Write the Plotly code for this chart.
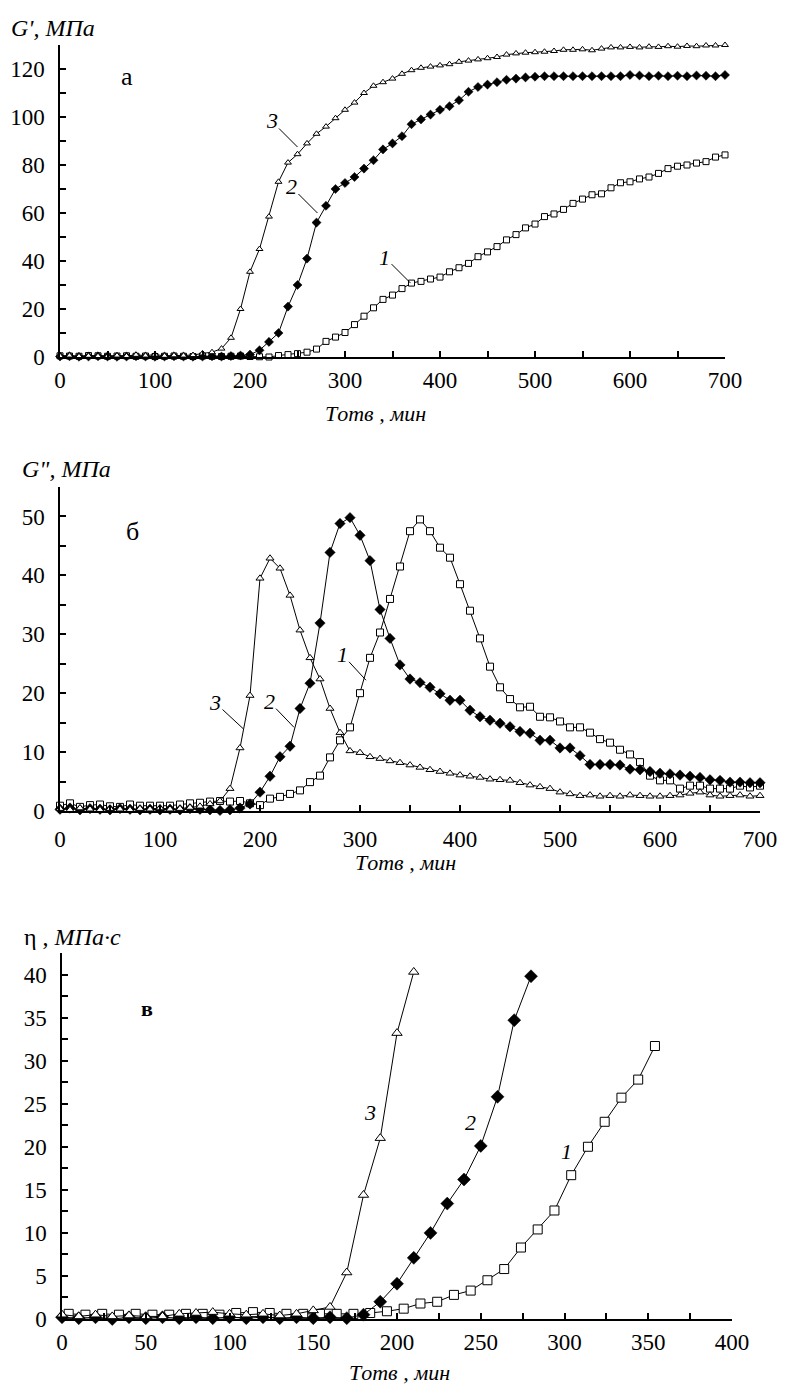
import plotly.graph_objects as go

# ---------------- data ----------------
# Panel a: G' (MPa) vs time (min)
T_A = [0, 10, 20, 30, 40, 50, 60, 70, 80, 90, 100, 110, 120, 130, 140, 150, 160, 170, 180, 190,
       200, 210, 220, 230, 240, 250, 260, 270, 280, 290, 300, 310, 320, 330, 340, 350, 360, 370, 380, 390,
       400, 410, 420, 430, 440, 450, 460, 470, 480, 490, 500, 510, 520, 530, 540, 550, 560, 570, 580, 590,
       600, 610, 620, 630, 640, 650, 660, 670, 680, 690, 700]
GA_1 = [0.5, 0.4, 0.3, 0.6, 0.5, 0.3, 0.4, 0.5, 0.3, 0.4, 0.2, 0.3, 0.4, 0.3, 0.2, 0.4, 0.3, 0.2, 0.3, 0.4,
        0.2, 0.1, 0.0, 0.6, 1.0, 1.4, 2.0, 3.3, 6.5, 8.3, 10.2, 13.5, 17.0, 20.5, 24.0, 25.8, 28.5, 30.8, 31.5, 32.5,
        33.3, 35.5, 37.2, 39.0, 41.8, 43.8, 46.0, 48.8, 51.0, 53.8, 55.4, 58.5, 59.6, 61.5, 64.0, 65.8, 67.6, 68.0, 70.5, 72.6,
        73.0, 74.2, 75.0, 76.5, 78.5, 79.5, 80.0, 80.8, 81.4, 83.3, 84.2]
GA_2 = [0.2, 0.3, 0.1, 0.2, 0.3, 0.2, 0.1, 0.2, 0.3, 0.2, 0.1, 0.2, 0.3, 0.2, 0.1, 0.2, 0.3, 0.2, 0.4, 0.6,
        1.0, 2.8, 6.3, 10.0, 21.0, 30.0, 41.0, 56.0, 63.0, 70.0, 72.5, 75.0, 78.5, 82.0, 86.5, 89.0, 92.0, 97.0, 99.0, 101.0,
        103.0, 104.5, 107.0, 110.5, 112.5, 113.5, 114.5, 115.5, 116.0, 116.5, 116.8, 117.0, 117.0, 117.0, 117.0, 117.0, 117.0, 117.0, 117.0, 117.0,
        117.5, 117.3, 117.0, 117.2, 117.0, 117.2, 117.0, 117.3, 117.2, 117.0, 117.5]
GA_3 = [0.4, 0.6, 0.3, 0.5, 0.4, 0.3, 0.6, 0.4, 0.9, 0.6, 1.0, 0.5, 0.7, 0.6, 0.8, 1.5, 2.0, 3.5, 8.0, 20.0,
        35.5, 45.0, 58.5, 73.0, 81.0, 84.5, 89.0, 93.0, 96.0, 99.5, 103.0, 106.0, 110.0, 113.0, 114.5, 116.0, 118.0, 119.5, 120.5, 121.0,
        121.5, 122.0, 123.0, 123.5, 124.0, 124.5, 125.0, 126.0, 126.5, 126.8, 127.0, 127.2, 127.5, 128.0, 128.0, 128.2, 127.8, 128.5, 129.0, 129.0,
        129.2, 129.0, 129.3, 129.2, 129.5, 129.3, 129.6, 129.5, 129.8, 129.8, 130.0]

# Panel b: G'' (MPa) vs time (min)
T_B = T_A
GB_1 = [0.9, 1.3, 0.7, 1.0, 1.1, 0.8, 0.7, 1.1, 0.9, 0.9, 0.9, 0.9, 1.1, 1.3, 1.4, 1.6, 1.7, 1.6, 1.7, 1.3,
        1.0, 2.1, 2.4, 2.9, 3.5, 4.9, 6.0, 9.1, 12.0, 14.2, 20.0, 26.0, 30.3, 36.0, 41.5, 47.5, 49.5, 47.5, 44.7, 43.0,
        38.5, 34.0, 29.3, 24.5, 21.0, 19.0, 17.6, 17.7, 16.0, 15.9, 15.2, 14.2, 14.2, 13.3, 12.2, 11.6, 10.4, 9.6, 8.3, 6.0,
        5.2, 5.2, 3.8, 4.3, 4.3, 3.8, 3.8, 3.8, 4.3, 4.0, 4.3]
GB_2 = [0.3, 0.5, 0.2, 0.4, 0.3, 0.2, 0.4, 0.3, 0.2, 0.3, 0.2, 0.3, 0.2, 0.4, 0.3, 0.2, 0.1, 0.2, 0.5, 1.2,
        3.2, 5.9, 9.2, 11.0, 17.4, 21.7, 31.9, 43.9, 48.8, 49.8, 46.8, 42.5, 34.2, 29.3, 24.8, 22.4, 21.8, 21.0, 19.9, 18.8,
        18.8, 17.1, 16.0, 15.4, 14.9, 14.3, 13.5, 13.2, 12.0, 12.0, 10.7, 10.7, 9.4, 7.9, 7.9, 7.9, 7.8, 7.1, 7.0, 6.7,
        6.4, 6.3, 6.1, 5.9, 5.7, 5.3, 5.2, 4.9, 4.9, 4.8, 4.8]
GB_3 = [0.4, 0.2, 0.5, 0.3, 0.2, 0.4, 0.3, 0.2, 0.4, 0.3, 0.5, 0.3, 0.4, 0.6, 0.8, 1.2, 1.7, 3.8, 10.7, 19.6,
        39.5, 42.9, 41.2, 36.6, 30.7, 26.0, 22.4, 17.4, 13.3, 10.2, 9.9, 9.2, 8.9, 8.5, 8.2, 7.8, 7.4, 7.0, 6.7, 6.4,
        6.1, 5.9, 5.7, 5.4, 5.3, 5.2, 4.8, 4.4, 4.1, 3.8, 3.2, 2.9, 2.6, 2.7, 2.5, 2.6, 2.5, 2.7, 2.6, 2.5,
        2.5, 2.6, 2.7, 3.0, 3.2, 2.7, 2.5, 2.6, 2.7, 2.5, 2.6]

# Panel c: viscosity eta (MPa*s) vs time (min)
T_C1 = [4, 14, 24, 34, 44, 54, 64, 74, 84, 94, 104, 114, 124, 134, 144, 154, 164, 174, 184, 194,
        204, 214, 224, 234, 244, 254, 264, 274, 284, 294, 304, 314, 324, 334, 344, 354]
ETA_1 = [0.6, 0.5, 0.6, 0.5, 0.6, 0.5, 0.5, 0.6, 0.6, 0.5, 0.7, 0.8, 0.7, 0.6, 0.6, 0.6, 0.6, 0.6, 0.7, 0.9,
         1.2, 1.8, 2.0, 2.8, 3.3, 4.5, 5.8, 8.3, 10.4, 12.6, 16.7, 20.0, 22.9, 25.7, 27.8, 31.7]
T_C2 = [0, 10, 20, 30, 40, 50, 60, 70, 80, 90, 100, 110, 120, 130, 140, 150, 160, 170, 180, 190,
        200, 210, 220, 230, 240, 250, 260, 270, 280]
ETA_2 = [0.2, 0.1, 0.2, 0.0, 0.2, 0.1, 0.2, 0.1, 0.2, 0.1, 0.2, 0.1, 0.2, 0.1, 0.2, 0.1, 0.2, 0.1, 0.5, 2.0,
         4.1, 7.1, 10.0, 13.4, 16.2, 20.1, 25.8, 34.7, 39.8]
T_C3 = [0, 10, 20, 30, 40, 50, 60, 70, 80, 90, 100, 110, 120, 130, 140, 150, 160, 170, 180, 190,
        200, 210]
ETA_3 = [0.5, 0.3, 0.5, 0.3, 0.4, 0.3, 0.3, 0.6, 0.7, 0.8, 0.6, 0.5, 0.6, 0.4, 0.6, 1.0, 1.4, 5.4, 14.4, 21.0,
         33.2, 40.3]

# ---------------- figure ----------------
W, H = 785, 1386
FONT = "Liberation Serif, Times New Roman, serif"


def pxx(x):
    return x / W


def pxy(y):
    return 1 - y / H


fig = go.Figure()

sq = dict(symbol="square", color="white", line=dict(color="black", width=1))
dm = dict(symbol="diamond", color="black", line=dict(color="black", width=0.5))
tr = dict(symbol="triangle-up", color="white", line=dict(color="black", width=1))
ln = dict(color="black", width=1)


def add(x, y, marker, size, xa, ya):
    m = dict(marker)
    m["size"] = size
    fig.add_trace(go.Scatter(x=x, y=y, mode="lines+markers", line=ln, marker=m,
                             xaxis=xa, yaxis=ya, cliponaxis=False, showlegend=False))


add(T_A, GA_1, sq, 6, "x", "y")
add(T_A, GA_2, dm, 7, "x", "y")
add(T_A, GA_3, tr, 6, "x", "y")
add(T_B, GB_1, sq, 7, "x2", "y2")
add(T_B, GB_2, dm, 8, "x2", "y2")
add(T_B, GB_3, tr, 7, "x2", "y2")
add(T_C1, ETA_1, sq, 9, "x3", "y3")
add(T_C2, ETA_2, dm, 10, "x3", "y3")
add(T_C3, ETA_3, tr, 9, "x3", "y3")

tickfont = dict(family=FONT, size=23, color="black")


def ax(domain, rng, dtick, minor, anchor, standoff):
    return dict(domain=domain, range=rng, anchor=anchor, dtick=dtick, tick0=0,
                showline=True, linecolor="black", linewidth=1.5,
                ticks="inside", ticklen=6, tickwidth=1.5, tickcolor="black",
                minor=dict(dtick=minor, tick0=0, ticks="inside", ticklen=6, tickwidth=1.5,
                           tickcolor="black", showgrid=False),
                showgrid=False, zeroline=False, tickfont=tickfont, automargin=False,
                ticklabelstandoff=standoff, fixedrange=True)


fig.update_layout(
    width=W, height=H,
    margin=dict(l=0, r=0, t=0, b=0, autoexpand=False),
    font=dict(family=FONT, size=22, color="black"),
    paper_bgcolor="white", plot_bgcolor="white",
    xaxis=ax([pxx(60), pxx(725)], [0, 700], 100, 50, "y", 2),
    yaxis=ax([pxy(357), pxy(45)], [0, 130], 20, 10, "x", 9),
    xaxis2=ax([pxx(60), pxx(760)], [0, 700], 100, 50, "y2", 7),
    yaxis2=ax([pxy(811), pxy(487)], [0, 55], 10, 5, "x2", 9),
    xaxis3=ax([pxx(62), pxx(732)], [0, 400], 50, 25, "y3", 2),
    yaxis3=ax([pxy(1319), pxy(953)], [0, 42.5], 5, 2.5, "x3", 9),
)

tfont = dict(family=FONT, size=22, color="black")
yfont = dict(family=FONT, size=24, color="black")
ann = []
# axis titles
ann.append(dict(text="<i>G', МПа</i>", x=pxx(9), y=pxy(28), xref="paper", yref="paper",
                xanchor="left", yanchor="middle", showarrow=False, font=yfont))
ann.append(dict(text='<i>G", МПа</i>', x=pxx(20), y=pxy(469), xref="paper", yref="paper",
                xanchor="left", yanchor="middle", showarrow=False, font=yfont))
ann.append(dict(text="η , <i>МПа·с</i>", x=pxx(22), y=pxy(937), xref="paper", yref="paper",
                xanchor="left", yanchor="middle", showarrow=False, font=yfont))
for xc, yc in [(375, 413), (405, 862), (399, 1372)]:
    ann.append(dict(text="<i>Tотв , мин</i>", x=pxx(xc), y=pxy(yc), xref="paper", yref="paper",
                    xanchor="center", yanchor="middle", showarrow=False, font=tfont))

# panel letters
pl = dict(family=FONT, size=26, color="black")
ann.append(dict(text="а", x=70, y=117, xref="x", yref="y", showarrow=False, font=pl))
ann.append(dict(text="б", x=72, y=47.5, xref="x2", yref="y2", showarrow=False, font=pl))
ann.append(dict(text="<b>в</b>", x=51, y=36, xref="x3", yref="y3", showarrow=False,
                font=dict(family=FONT, size=22, color="black")))

# curve labels with leader lines
lf = dict(family=FONT, size=22, color="black")
for txt, x, y, xr, yr, dx, dy in [
    ("3", 250, 87.5, "x", "y", -26, -26),
    ("2", 271, 60, "x", "y", -26, -26),
    ("1", 369, 30.8, "x", "y", -26, -26),
    ("3", 183, 14.0, "x2", "y2", -28, -26),
    ("2", 234, 14.2, "x2", "y2", -25, -26),
    ("1", 306, 22.2, "x2", "y2", -24, -26),
]:
    ann.append(dict(text="<i>%s</i>" % txt, x=x, y=y, xref=xr, yref=yr, ax=dx, ay=dy,
                    showarrow=True, arrowhead=0, arrowwidth=1, arrowcolor="black",
                    standoff=0, startstandoff=0, font=lf))
for txt, x, y in [("3", 184, 24), ("2", 244, 22.8), ("1", 301, 19.4)]:
    ann.append(dict(text="<i>%s</i>" % txt, x=x, y=y, xref="x3", yref="y3",
                    showarrow=False, font=lf))

fig.update_layout(annotations=ann)
fig.write_html("out.html", config={"displayModeBar": False},
               post_script="document.body.style.margin='0px';document.body.style.overflow='hidden';")
